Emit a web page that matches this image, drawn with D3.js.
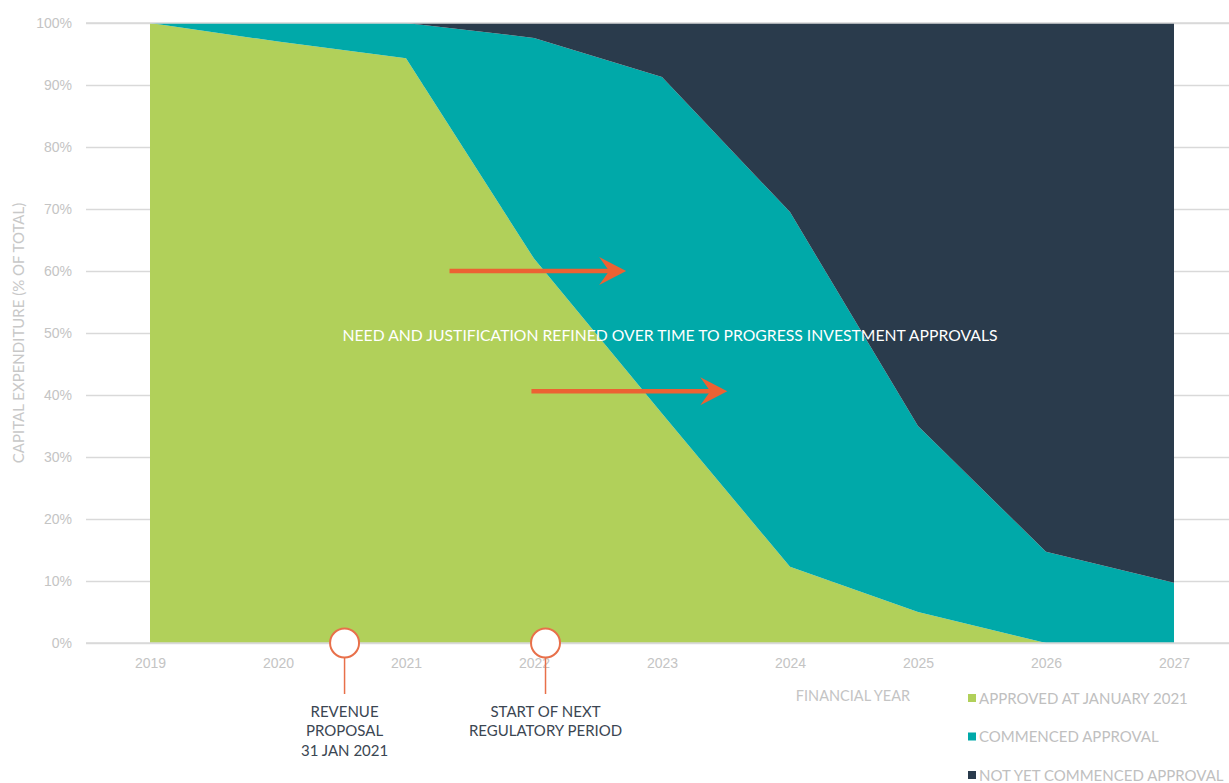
<!DOCTYPE html>
<html>
<head>
<meta charset="utf-8">
<script src="https://cdn.jsdelivr.net/npm/d3@7"></script>
<style>
  body { margin: 0; background: #fff; }
  svg { display: block; font-family: "Lato", "Open Sans", sans-serif; }
  .grid line { stroke: #d9d9d9; stroke-width: 1.5; }
  .tick text { fill: #c4c4c4; font-size: 14px; }
</style>
</head>
<body>
<script>
(function () {

    // financial years and shares (% of total capex)
    var years = [2019, 2020, 2021, 2022, 2023, 2024, 2025, 2026, 2027];
    var approved = [100, 97, 94.3, 62, 37, 12.3, 5, 0, 0];
    var commenced = [0, 3, 5.7, 35.6, 54.3, 57.2, 30, 14.7, 9.7];
    var notCommenced = [0, 0, 0, 2.4, 8.7, 30.5, 65, 85.3, 90.3];

    var seriesNames = ["APPROVED AT JANUARY 2021", "COMMENCED APPROVAL", "NOT YET COMMENCED APPROVAL"];
    var seriesColors = ["#b1d05a", "#00a9a9", "#2a3b4c"];
    var yTicks = [0, 10, 20, 30, 40, 50, 60, 70, 80, 90, 100];

    // milestones marked under the axis
    var milestones = [
        { year: 2020.52, lines: ["REVENUE", "PROPOSAL", "31 JAN 2021"] },
        { year: 2022.09, lines: ["START OF NEXT", "REGULATORY PERIOD"] }
    ];
    // arrows: [fromYear, toYear, share]
    var arrows = [[2021.34, 2022.72, 60], [2021.98, 2023.51, 40.6]];

    var width = 1229,
        height = 783;

    var x = d3.scaleLinear().domain([2019, 2027]).range([150, 1174]);
    var y = d3.scaleLinear().domain([0, 100]).range([643, 23]);

    var svg = d3.select("body")
        .append("svg")
        .attr("width", width)
        .attr("height", height);

    var rows = years.map(function (yr, i) {
        return { year: yr, a: approved[i], c: commenced[i], n: notCommenced[i] };
    });
    var stack = d3.stack().keys(["a", "c", "n"]);
    var layers = stack(rows);

    // gridlines
    var grid = svg.append("g")
        .attr("class", "grid")
        .attr("transform", "translate(86,0)")
        .call(d3.axisLeft(y).tickValues(yTicks).tickSize(-(width - 86)).tickFormat(""));
    grid.select(".domain").remove();

    var area = d3.area()
        .x(function (d) { return x(d.data.year); })
        .y0(function (d) { return y(d[0]); })
        .y1(function (d) { return y(d[1]); });

    svg.selectAll(".layer")
        .data(layers)
        .enter()
        .append("path")
        .attr("class", "layer")
        .attr("d", area)
        .style("fill", function (d, i) { return seriesColors[i]; });

    // top and bottom gridlines over the areas
    [0, 100].forEach(function (v) {
        svg.append("line")
            .attr("x1", 86).attr("x2", width)
            .attr("y1", y(v)).attr("y2", y(v))
            .style("stroke", "#d9d9d9").style("stroke-width", 1.5);
    });

    // y axis labels
    var yAxis = svg.append("g")
        .attr("transform", "translate(72,0)")
        .call(d3.axisLeft(y).tickValues(yTicks).tickSize(0).tickPadding(0)
            .tickFormat(function (d) { return d + "%"; }));
    yAxis.select(".domain").remove();
    yAxis.selectAll("text").attr("dy", "0.35em");

    // x axis labels
    var xAxis = svg.append("g")
        .attr("transform", "translate(0," + y(0) + ")")
        .call(d3.axisBottom(x).tickValues(years).tickSize(0).tickPadding(15)
            .tickFormat(d3.format("d")));
    xAxis.select(".domain").remove();

    svg.append("text")
        .attr("transform", "translate(24," + y(50) + ") rotate(-90)")
        .attr("text-anchor", "middle")
        .style("fill", "#c8c8c8")
        .style("font-size", "15px")
        .text("CAPITAL EXPENDITURE (% OF TOTAL)");

    svg.append("text")
        .attr("x", 853)
        .attr("y", 701)
        .attr("text-anchor", "middle")
        .style("fill", "#c4c4c4")
        .style("font-size", "14.5px")
        .text("FINANCIAL YEAR");

    // legend
    var legend = svg.selectAll(".legend")
        .data(seriesNames)
        .enter()
        .append("g")
        .attr("class", "legend")
        .attr("transform", function (d, i) { return "translate(968," + (698 + i * 38.5) + ")"; });
    legend.append("rect")
        .attr("x", 0).attr("y", -4).attr("width", 8).attr("height", 8)
        .style("fill", function (d, i) { return seriesColors[i]; });
    legend.append("text")
        .attr("x", 11)
        .attr("y", 5.5)
        .style("fill", "#c0c0c0")
        .style("font-size", "15px")
        .text(function (d) { return d; });

    // arrows
    svg.selectAll(".arrow")
        .data(arrows)
        .enter()
        .append("g")
        .attr("class", "arrow")
        .each(function (d) {
            var g = d3.select(this),
                x0 = x(d[0]), x1 = x(d[1]), yy = y(d[2]);
            g.append("line")
                .attr("x1", x0).attr("x2", x1 - 10)
                .attr("y1", yy).attr("y2", yy)
                .style("stroke", "#ec6233").style("stroke-width", 4.5);
            g.append("path")
                .attr("d", "M" + x1 + "," + yy + "L" + (x1 - 27) + "," + (yy - 14) +
                    "L" + (x1 - 17) + "," + yy + "L" + (x1 - 27) + "," + (yy + 14) + "Z")
                .style("fill", "#ec6233");
        });

    svg.append("text")
        .attr("x", 670)
        .attr("y", 341)
        .attr("text-anchor", "middle")
        .attr("textLength", 655)
        .attr("lengthAdjust", "spacingAndGlyphs")
        .style("fill", "#fff")
        .style("font-size", "15.5px")
        .text("NEED AND JUSTIFICATION REFINED OVER TIME TO PROGRESS INVESTMENT APPROVALS");

    // milestones
    var ms = svg.selectAll(".milestone")
        .data(milestones)
        .enter()
        .append("g")
        .attr("class", "milestone")
        .attr("transform", function (d) { return "translate(" + x(d.year) + "," + y(0) + ")"; });
    ms.append("line")
        .attr("y1", 14).attr("y2", 51)
        .style("stroke", "#e8704a").style("stroke-width", 1.5);
    ms.append("circle")
        .attr("r", 14.5)
        .style("fill", "#fff")
        .style("stroke", "#e8704a")
        .style("stroke-width", 2);
    ms.each(function (d) {
        var t = d3.select(this).append("text")
            .attr("text-anchor", "middle")
            .style("fill", "#3b4652")
            .style("font-size", "15px");
        d.lines.forEach(function (l, i) {
            t.append("tspan").attr("x", 0).attr("y", 74 + i * 19.3).text(l);
        });
    });

})();
</script>
</body>
</html>
